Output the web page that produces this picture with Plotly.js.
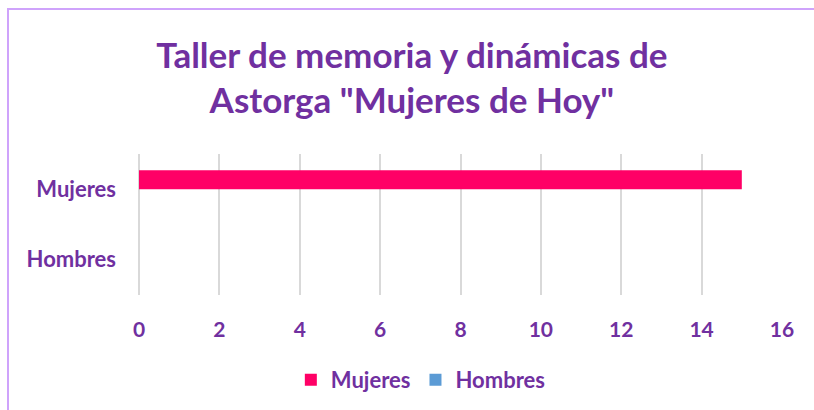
<!DOCTYPE html>
<html>
<head>
<meta charset="utf-8">
<script src="https://cdn.plot.ly/plotly-3.0.1.min.js"></script>
<style>
  body { margin: 0; background: #fff; }
  #grafico { width: 814px; height: 410px; }
  #marco {
    position: absolute; left: 7px; top: 8px; right: 0; bottom: 0;
    border-left: 2px solid #cfa3fb; border-top: 2px solid #cfa3fb;
    pointer-events: none;
  }
</style>
</head>
<body>
<div id="grafico"></div>
<div id="marco"></div>
<script>
// Datos del gráfico
const categorias = ['Hombres', 'Mujeres'];
const serieMujeres = [0, 15];
const serieHombres = [0, 0];
const ticksX = [0, 2, 4, 6, 8, 10, 12, 14, 16];

const morado = '#7030a0';
const fuente = 'Lato, "Open Sans", sans-serif';

const trazas = [
    {
        type: 'bar',
        orientation: 'h',
        name: 'Mujeres',
        y: categorias,
        x: serieMujeres,
        width: 0.27,
        offset: 0,
        marker: { color: '#ff0066', line: { width: 0 } },
        hoverinfo: 'x+name'
    },
    {
        type: 'bar',
        orientation: 'h',
        name: 'Hombres',
        y: categorias,
        x: serieHombres,
        width: 0.27,
        offset: -0.27,
        marker: { color: '#5b9bd5', line: { width: 0 } },
        hoverinfo: 'x+name'
    }
];

const layout = {
    width: 814,
    height: 410,
    margin: { l: 139, r: 32, t: 154, b: 115 },
    paper_bgcolor: 'rgba(0,0,0,0)',
    plot_bgcolor: 'rgba(0,0,0,0)',
    barmode: 'overlay',
    font: { family: fuente, color: morado },
    title: {
        text: 'Taller de memoria y dinámicas de<br>Astorga "Mujeres de Hoy"',
        font: { family: fuente, size: 35, color: morado, weight: 'bold' },
        x: 0.506,
        xanchor: 'center',
        xref: 'container',
        y: 0.835,
        yanchor: 'middle',
        yref: 'container'
    },
    xaxis: {
        range: [0, 16],
        tickvals: ticksX,
        ticktext: ticksX.map(String),
        showgrid: true,
        gridcolor: '#d9d9d9',
        gridwidth: 2,
        zeroline: true,
        zerolinecolor: '#d9d9d9',
        zerolinewidth: 2,
        showline: false,
        ticks: '',
        ticklabelstandoff: 20,
        tickfont: { family: fuente, size: 21, color: morado, weight: 'bold' },
        fixedrange: true
    },
    yaxis: {
        type: 'category',
        categoryorder: 'array',
        categoryarray: categorias,
        range: [-0.5, 1.5],
        showgrid: false,
        zeroline: false,
        showline: false,
        ticks: '',
        ticklabelstandoff: 22,
        tickfont: { family: fuente, size: 22, color: morado, weight: 'bold' },
        fixedrange: true
    },
    showlegend: true,
    legend: {
        orientation: 'h',
        xref: 'container',
        yref: 'container',
        x: 0.517,
        xanchor: 'center',
        y: 1 - 380 / 410,
        yanchor: 'middle',
        font: { family: fuente, size: 22, color: morado, weight: 'bold' },
        itemwidth: 30,
        traceorder: 'normal'
    }
};

Plotly.newPlot('grafico', trazas, layout, { displayModeBar: false, staticPlot: true });
</script>
</body>
</html>
